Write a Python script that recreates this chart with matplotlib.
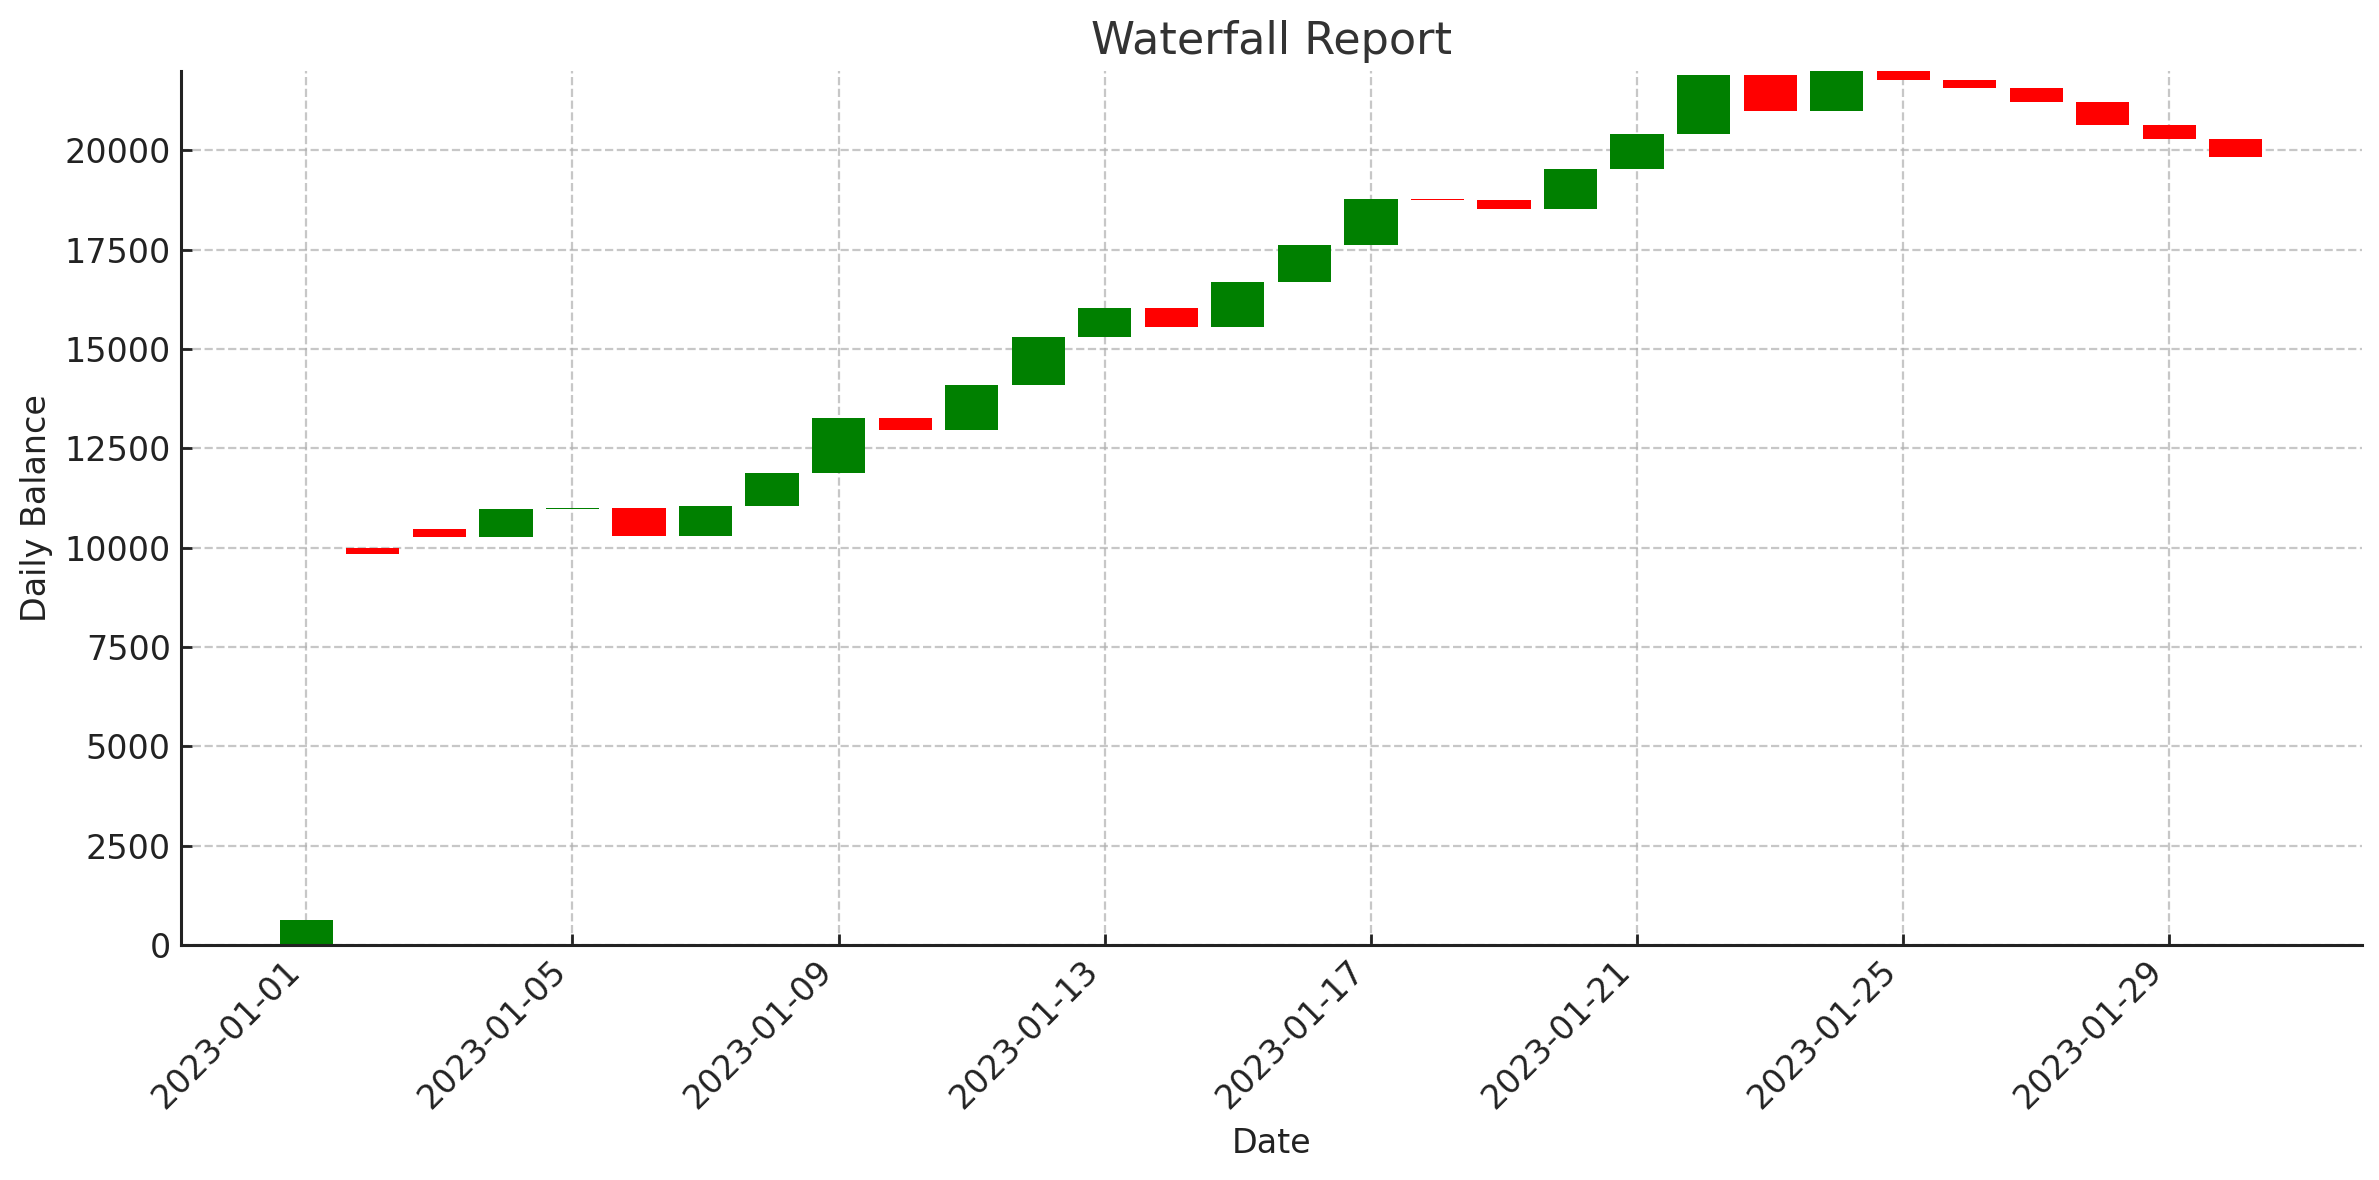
import matplotlib
matplotlib.use('Agg')
import matplotlib.pyplot as plt
import matplotlib.dates as mdates
import numpy as np
import pandas as pd

dates = pd.date_range('2023-01-01', '2023-01-30', freq='D')
# balance at the start and end of each daily bar
opening = [0, 10000, 10476, 10259, 10983, 10998, 10288, 11056, 11882, 13258,
           12969, 14084, 15316, 16026, 15562, 16678, 17620, 18775, 18760, 18520,
           19538, 20420, 21907, 21000, 22000, 21781, 21580, 21227, 20647, 20294]
closing = [623, 9839, 10259, 10983, 10998, 10288, 11056, 11882, 13258, 12969,
           14084, 15316, 16026, 15562, 16678, 17620, 18775, 18760, 18520, 19538,
           20420, 21907, 21000, 22000, 21781, 21580, 21227, 20647, 20294, 19840]

opening = np.array(opening)
closing = np.array(closing)
change = closing - opening
colors = ['green' if c >= 0 else 'red' for c in change]

fig = plt.figure(figsize=(11.895, 5.9), dpi=200)
ax = fig.add_axes([0.0759, 0.1992, 0.9168, 0.7406])

ax.bar(dates, change, bottom=opening, color=colors, width=0.8)

ax.set_ylim(0, closing.max())
ax.set_title('Waterfall Report', fontsize=16, color='#333333')
ax.set_xlabel('Date', fontsize=12, color='#222222')
ax.set_ylabel('Daily Balance', fontsize=12, color='#222222')

# a tick every 4 days, starting on the first date
ax.set_xticks(dates[::4])
ax.xaxis.set_major_formatter(mdates.DateFormatter('%Y-%m-%d'))
plt.setp(ax.get_xticklabels(), rotation=45, ha='right')

ax.tick_params(direction='in', labelsize=12, colors='#222222', length=4, width=1)
ax.grid(True, linestyle='--', alpha=0.7, linewidth=0.8)
ax.set_axisbelow(True)

for side in ['top', 'right']:
    ax.spines[side].set_visible(False)
for side in ['left', 'bottom']:
    ax.spines[side].set_linewidth(1.1)
    ax.spines[side].set_color('#222222')

fig.savefig('out.png', dpi=200)
